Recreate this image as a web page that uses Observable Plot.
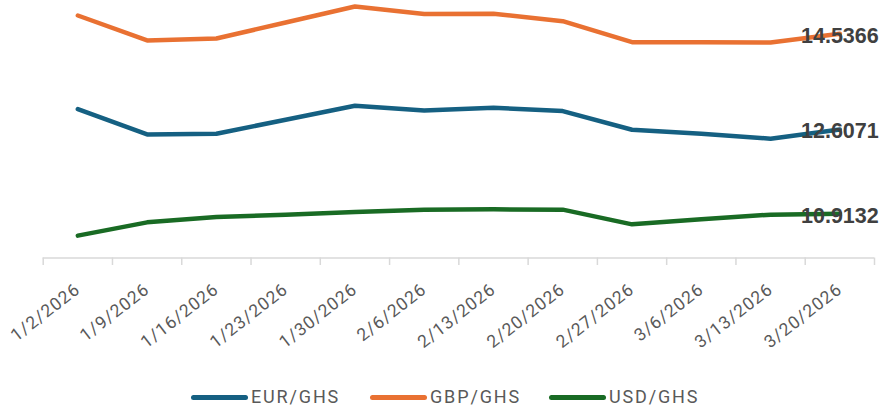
<!DOCTYPE html>
<html><head><meta charset="utf-8">
<script src="https://cdn.jsdelivr.net/npm/d3@7"></script>
<script src="https://cdn.jsdelivr.net/npm/@observablehq/plot@0.6"></script>
<style>
html,body{margin:0;padding:0;background:#fff;}
#wrap{position:relative;width:884px;height:407px;overflow:hidden;background:#fff;}
#legend{position:absolute;left:0;top:386px;width:884px;height:22px;font-family:Roboto,sans-serif;font-size:18px;color:#595959;}
.item{position:absolute;top:0;height:22px;}
.sw{position:absolute;top:9px;left:0;height:5px;width:57px;border-radius:3px;}
.lb{position:absolute;left:60px;top:0;line-height:22px;letter-spacing:1.85px;white-space:nowrap;}
</style></head>
<body><div id="wrap"><div id="chart"></div><div id="legend"></div></div>
<script>
const dates = ["1/2/2026","1/9/2026","1/16/2026","1/23/2026","1/30/2026","2/6/2026","2/13/2026","2/20/2026","2/27/2026","3/6/2026","3/13/2026","3/20/2026"];
const eur = [13.019, 12.510, 12.524, 12.806, 13.087, 12.993, 13.047, 12.979, 12.604, 12.524, 12.423, 12.6071];
const gbp = [14.905, 14.402, 14.442, 14.764, 15.086, 14.935, 14.940, 14.790, 14.368, 14.368, 14.362, 14.5366];
const usd = [10.471, 10.738, 10.845, 10.893, 10.946, 10.994, 11.000, 10.994, 10.698, 10.799, 10.893, 10.9132];
const seriesNames = ["EUR/GHS", "GBP/GHS", "USD/GHS"];
const seriesColors = ["#156082", "#E97132", "#196B24"];

const seriesValues = [eur, gbp, usd];
const rows = [];
seriesNames.forEach((name, s) => seriesValues[s].forEach((v, i) => rows.push({series: name, i, date: dates[i], value: v})));
const lastRows = rows.filter(d => d.i === dates.length - 1);
const bounds = d3.range(dates.length + 1).map(k => k - 0.5);
const yMin = 10.02, yMax = 15.207;

const chart = Plot.plot({
  width: 884, height: 365,
  marginLeft: 42.7, marginRight: 10, marginTop: 0, marginBottom: 107.5,
  x: {type: "linear", domain: [-0.5, dates.length - 0.5], axis: null},
  y: {domain: [yMin, yMax], axis: null},
  color: {domain: seriesNames, range: seriesColors},
  style: {fontFamily: "Roboto, sans-serif", background: "white", overflow: "visible"},
  marks: [
    Plot.ruleY([yMin], {stroke: "#d9d9d9", strokeWidth: 1.5}),
    Plot.axisX(bounds, {tickSize: 7.5, tickFormat: () => "", stroke: "#d9d9d9", strokeWidth: 1.5, label: null}),
    Plot.line(rows, {x: "i", y: "value", z: "series", stroke: "series", strokeWidth: 4.5, strokeLinecap: "round", strokeLinejoin: "round"}),
    Plot.text(dates, {x: (d, i) => i, frameAnchor: "bottom", dy: 29, text: d => d, rotate: -38, textAnchor: "end", lineAnchor: "middle", fontSize: 17.5, fill: "#595959"}),
    Plot.text(lastRows, {x: "i", y: "value", text: d => d.value.toFixed(4), fontWeight: "bold", fontSize: 21.5, fill: "#404040", fontFamily: "Liberation Sans", textAnchor: "middle", dy: 2})
  ]
});
document.getElementById("chart").appendChild(chart);
d3.select(chart).selectAll('g[fill="#595959"]').attr("letter-spacing", "1.1");

const legendLeft = [191, 370, 549];
const legend = d3.select("#legend");
seriesNames.forEach((name, s) => {
  const it = legend.append("div").attr("class", "item").style("left", legendLeft[s] + "px");
  it.append("div").attr("class", "sw").style("background", seriesColors[s]);
  it.append("div").attr("class", "lb").text(name);
});
</script>
</body></html>
